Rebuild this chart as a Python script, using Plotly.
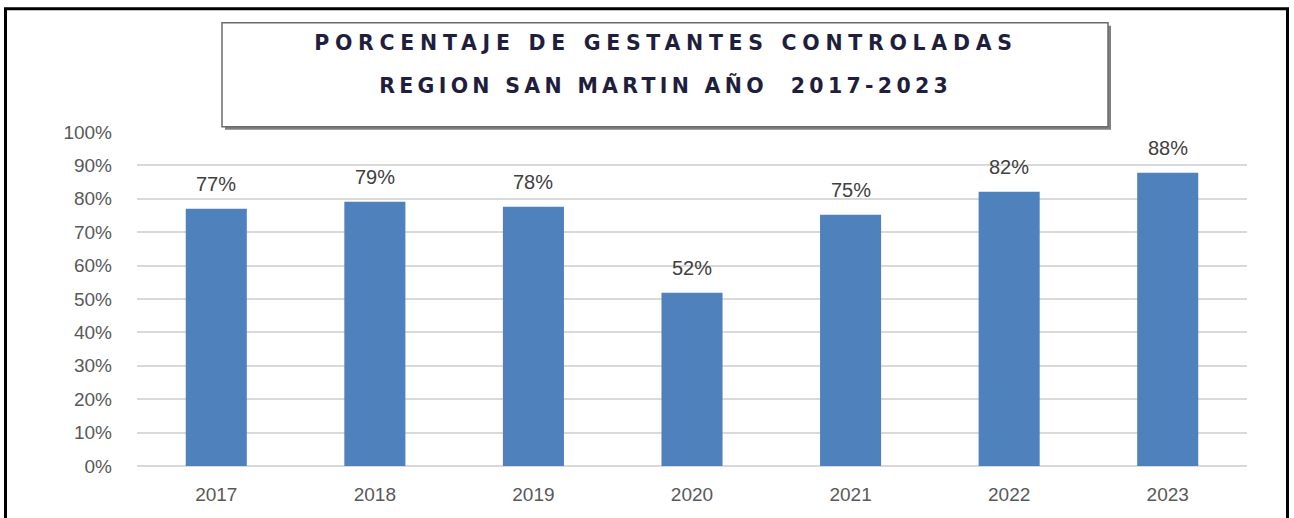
import plotly.graph_objects as go

years = ["2017", "2018", "2019", "2020", "2021", "2022", "2023"]
values = [0.770, 0.791, 0.776, 0.519, 0.752, 0.821, 0.878]
labels = ["77%", "79%", "78%", "52%", "75%", "82%", "88%"]
tick_vals = [0, 0.1, 0.2, 0.3, 0.4, 0.5, 0.6, 0.7, 0.8, 0.9, 1.0]
tick_text = ["0%", "10%", "20%", "30%", "40%", "50%", "60%", "70%", "80%", "90%", "100%"]
title_line1 = "PORCENTAJE DE GESTANTES CONTROLADAS"
title_line2 = "REGION SAN MARTIN AÑO \u00a02017-2023"

TXT = "Liberation Sans Narrow, Arial Narrow, Liberation Sans, Arial, sans-serif"

fig = go.Figure()
fig.add_trace(go.Bar(
    x=years, y=values,
    marker=dict(color="#4F81BD", line=dict(width=0)),
    hoverinfo="skip",
))

annotations = []
for i, (v, lab) in enumerate(zip(values, labels)):
    annotations.append(dict(
        x=i, y=v, xref="x", yref="y", text=lab, showarrow=False,
        yanchor="middle", yshift=25,
        font=dict(family=TXT, size=20, color="#404040"),
    ))

title_font = dict(family="DejaVu Sans, Liberation Sans, Arial, sans-serif", size=20.5,
                  color="#1F1F3D", weight="bold")
annotations.append(dict(x=0.477, y=1.265, xref="paper", yref="paper", text=title_line1,
                        showarrow=False, xanchor="center", yanchor="middle", font=title_font))
annotations.append(dict(x=0.4757, y=1.139, xref="paper", yref="paper", text=title_line2,
                        showarrow=False, xanchor="center", yanchor="middle", font=title_font))

def px_x(p):
    return (p - 137) / 1110.0

def px_y(p):
    return (466.3 - p) / 334.0

shapes = [
    # outer frame
    dict(type="rect", xref="paper", yref="paper",
         x0=px_x(5.5), x1=px_x(1287.5), y0=px_y(540), y1=px_y(9),
         line=dict(color="#000000", width=3), fillcolor="rgba(0,0,0,0)", layer="above"),
    # title box shadow
    dict(type="rect", xref="paper", yref="paper",
         x0=px_x(225), x1=px_x(1111), y0=px_y(130), y1=px_y(26),
         line=dict(width=0), fillcolor="#808080", layer="above"),
    # title box
    dict(type="rect", xref="paper", yref="paper",
         x0=px_x(222), x1=px_x(1108), y0=px_y(127), y1=px_y(23),
         line=dict(color="#6B6B6B", width=1.5), fillcolor="#FFFFFF", layer="above"),
]

fig.update_layout(
    width=1294, height=518,
    margin=dict(l=137, r=47, t=132, b=52, pad=0, autoexpand=False),
    paper_bgcolor="#FFFFFF", plot_bgcolor="#FFFFFF",
    bargap=0.615,
    showlegend=False,
    annotations=annotations,
    shapes=shapes,
    xaxis=dict(
        type="category", range=[-0.5, 6.5], showgrid=False, zeroline=False, showline=False,
        ticks="", ticklabelstandoff=15,
        tickfont=dict(family=TXT, size=19, color="#595959"),
        fixedrange=True,
    ),
    yaxis=dict(
        range=[0, 1.0], tickvals=tick_vals, ticktext=tick_text,
        showgrid=True, gridcolor="#D9D9D9", gridwidth=1.5,
        zeroline=True, zerolinecolor="#D9D9D9", zerolinewidth=1.5,
        showline=False, ticks="", ticklabelstandoff=24,
        tickfont=dict(family=TXT, size=19, color="#595959"),
        fixedrange=True,
    ),
)

post_js = """
(function(){
  document.body.style.margin = '0';
  document.documentElement.style.margin = '0';
  var spacing = {'PORCENTAJE': '5.7px', 'REGION': '4.3px'};
  document.querySelectorAll('text.annotation-text').forEach(function(t){
    var s = t.textContent || '';
    Object.keys(spacing).forEach(function(k){
      if (s.indexOf(k) === 0) { t.style.letterSpacing = spacing[k]; }
    });
  });
})();
"""

fig.write_html("out.html", post_script=post_js, config={"displayModeBar": False})
